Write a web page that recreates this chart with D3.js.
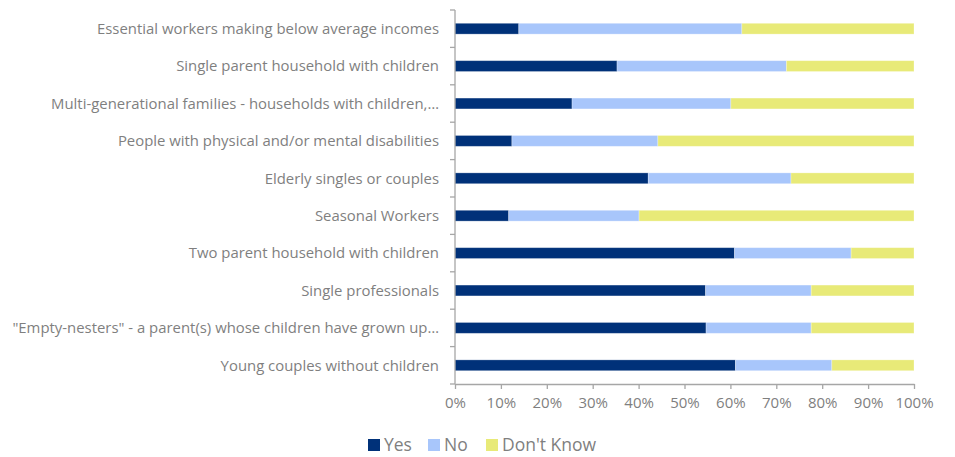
<!DOCTYPE html>
<html>
<head>
<meta charset="utf-8">
<script src="https://cdn.jsdelivr.net/npm/d3@7"></script>
<style>
  body { margin: 0; background: #fff; }
  svg { display: block; }
  text { font-family: "Open Sans", Lato, sans-serif; fill: #7f7f7f; }
</style>
</head>
<body>
<svg id="chart" width="955" height="457"></svg>
<script>
// Groups, top to bottom
const categories = [
  "Essential workers making below average incomes",
  "Single parent household with children",
  "Multi-generational families - households with children,…",
  "People with physical and/or mental disabilities",
  "Elderly singles or couples",
  "Seasonal Workers",
  "Two parent household with children",
  "Single professionals",
  "\"Empty-nesters\" - a parent(s) whose children have grown up…",
  "Young couples without children"
];
// Share of responses (%)
const yesValues = [13.9, 35.3, 25.5, 12.4, 42.1, 11.7, 60.9, 54.6, 54.7, 61.1];
const noValues = [48.6, 36.9, 34.6, 31.8, 31.1, 28.4, 25.4, 23.0, 22.9, 21.0];
const dontKnowValues = [37.5, 27.8, 39.9, 55.8, 26.8, 59.9, 13.7, 22.4, 22.4, 17.9];
const seriesNames = ["Yes", "No", "Don't Know"];
const seriesColors = ["#003179", "#a8c6fb", "#e8ea78"];
const tickValues = [0, 10, 20, 30, 40, 50, 60, 70, 80, 90, 100];

const svg = d3.select("#chart");
const margin = { left: 455, top: 10, right: 41, bottom: 73 };
const width = 955 - margin.left - margin.right;
const height = 457 - margin.top - margin.bottom;
const g = svg.append("g").attr("transform", `translate(${margin.left},${margin.top})`);

const rows = categories.map((c, i) => ({
  category: c, Yes: yesValues[i], No: noValues[i], "Don't Know": dontKnowValues[i]
}));
const stacked = d3.stack().keys(seriesNames).offset(d3.stackOffsetExpand)(rows);

const x = d3.scaleLinear().domain([0, 1]).range([0, width]);
const y = d3.scaleBand().domain(categories).range([0, height]).paddingInner(0.71).paddingOuter(0.355);
const color = d3.scaleOrdinal().domain(seriesNames).range(seriesColors);

// Bars
g.selectAll("g.series")
  .data(stacked)
  .join("g")
  .attr("class", "series")
  .attr("fill", d => color(d.key))
  .selectAll("rect")
  .data(d => d)
  .join("rect")
  .attr("x", d => x(d[0]))
  .attr("y", d => y(d.data.category))
  .attr("width", d => x(d[1]) - x(d[0]))
  .attr("height", y.bandwidth())
  .attr("stroke", "#ffffff")
  .attr("stroke-opacity", 0.35)
  .attr("stroke-width", 0.8);

const axisColor = "#a6a6a6";

// Category axis with ticks on band boundaries
g.append("line")
  .attr("x1", 0).attr("x2", 0).attr("y1", 0).attr("y2", height)
  .attr("stroke", axisColor).attr("stroke-width", 1.3);
const step = height / categories.length;
g.selectAll("line.ytick")
  .data(d3.range(categories.length + 1))
  .join("line")
  .attr("class", "ytick")
  .attr("x1", -5).attr("x2", 0)
  .attr("y1", i => i * step).attr("y2", i => i * step)
  .attr("stroke", axisColor).attr("stroke-width", 1.3);
g.selectAll("text.ylabel")
  .data(categories)
  .join("text")
  .attr("class", "ylabel")
  .attr("x", -16)
  .attr("y", d => y(d) + y.bandwidth() / 2)
  .attr("dy", "0.35em")
  .attr("text-anchor", "end")
  .attr("font-size", "14.9px")
  .text(d => d);

// Percentage axis
const xAxis = g.append("g")
  .attr("transform", `translate(0,${height})`)
  .call(d3.axisBottom(x).tickValues(tickValues.map(v => v / 100))
    .tickFormat(v => Math.round(v * 100) + "%").tickSize(5).tickSizeOuter(0));
xAxis.select(".domain").attr("stroke", axisColor).attr("stroke-width", 1.3);
xAxis.selectAll(".tick line").attr("stroke", axisColor).attr("stroke-width", 1.3);
xAxis.selectAll(".tick text")
  .attr("fill", "#7f7f7f")
  .attr("font-size", "15px")
  .attr("font-family", "\"Open Sans\", Lato, sans-serif")
  .attr("dy", "1.05em");

// Legend
const legendX = [368, 428, 486];
const legend = svg.append("g");
seriesNames.forEach((name, i) => {
  legend.append("rect")
    .attr("x", legendX[i]).attr("y", 439)
    .attr("width", 12).attr("height", 12)
    .attr("fill", seriesColors[i]);
  legend.append("text")
    .attr("x", legendX[i] + 16).attr("y", 445)
    .attr("dy", "0.36em")
    .attr("font-size", "17.5px")
    .text(name);
});
</script>
</body>
</html>
